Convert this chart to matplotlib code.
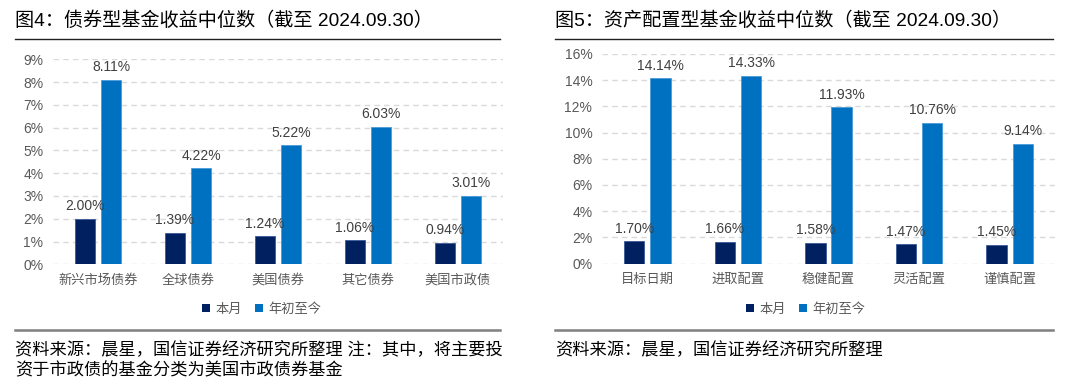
import matplotlib
matplotlib.use("Agg")
import matplotlib.pyplot as plt
import numpy as np
from matplotlib.patches import Patch
from matplotlib.lines import Line2D

plt.rcParams['font.family'] = ['Liberation Sans', 'Noto Sans CJK SC', 'DejaVu Sans']

# data
bond_cats = ['新兴市场债券', '全球债券', '美国债券', '其它债券', '美国市政债']
bond_month = [2.00, 1.39, 1.24, 1.06, 0.94]
bond_ytd = [8.11, 4.22, 5.22, 6.03, 3.01]

alloc_cats = ['目标日期', '进取配置', '稳健配置', '灵活配置', '谨慎配置']
alloc_month = [1.70, 1.66, 1.58, 1.47, 1.45]
alloc_ytd = [14.14, 14.33, 11.93, 10.76, 9.14]

series_names = ['本月', '年初至今']
titles = ['图4：债券型基金收益中位数（截至 2024.09.30）',
          '图5：资产配置型基金收益中位数（截至 2024.09.30）']
notes = ['资料来源：晨星，国信证券经济研究所整理 注：其中，将主要投\n资于市政债的基金分类为美国市政债券基金',
         '资料来源：晨星，国信证券经济研究所整理']

DARK = '#002060'
LIGHT = '#0070C0'
GRAY = '#595959'

W, H = 1080, 387
fig = plt.figure(figsize=(W / 100, H / 100), dpi=100)


def px_axes(x0, x1, y_top, y_bot):
    return fig.add_axes([x0 / W, 1 - y_bot / H, (x1 - x0) / W, (y_bot - y_top) / H])


def draw_panel(ax, cats, month, ytd, ymax, step):
    x = np.arange(len(cats))
    bw = 0.225
    off = 0.145
    b1 = ax.bar(x - off, month, bw, color=DARK, edgecolor='#3a5a9a', linewidth=0.6, zorder=3)
    b2 = ax.bar(x + off, ytd, bw, color=LIGHT, edgecolor='#4a9ad8', linewidth=0.6, zorder=3)
    for bars in (b1, b2):
        for r in bars:
            ax.annotate(f'{r.get_height():.2f}%', (r.get_x() + r.get_width() / 2, r.get_height()),
                        xytext=(0, 4), textcoords='offset points', ha='center', va='bottom',
                        fontsize=10, color='#404040')
    ax.set_xlim(-0.5, len(cats) - 0.5)
    ax.set_ylim(0, ymax)
    yt = np.arange(0, ymax + 0.01, step)
    ax.set_yticks(yt)
    ax.set_yticklabels([f'{int(v)}%' for v in yt], fontsize=10, color=GRAY)
    ax.set_xticks(x)
    ax.set_xticklabels(cats, fontsize=9.5, color=GRAY, family=['Noto Sans CJK SC'])
    ax.tick_params(axis='both', length=0)
    ax.tick_params(axis='y', pad=7)
    ax.tick_params(axis='x', pad=7)
    for s in ax.spines.values():
        s.set_visible(False)
    ax.yaxis.grid(True, linestyle=(0, (4, 3)), color='#d9d9d9', linewidth=1, zorder=0)
    ax.set_axisbelow(True)


ax1 = px_axes(53, 503, 59.3, 264.3)
draw_panel(ax1, bond_cats, bond_month, bond_ytd, 9, 1)
ax2 = px_axes(602, 1055, 54, 263.5)
draw_panel(ax2, alloc_cats, alloc_month, alloc_ytd, 16, 2)

handles = [Patch(facecolor=DARK), Patch(facecolor=LIGHT)]
for cx in (262, 806):
    fig.legend(handles, series_names, loc='center', bbox_to_anchor=(cx / W, 1 - 309 / H),
               ncol=2, frameon=False, handlelength=0.6, handleheight=0.6, handletextpad=0.4,
               columnspacing=1.0, prop={'family': 'Noto Sans CJK SC', 'size': 9.5},
               labelcolor=GRAY)

# titles, rules and notes
for x0, x1, title, note in [(15, 500, titles[0], notes[0]), (555, 1053, titles[1], notes[1])]:
    fig.text(x0 / W, 1 - 21 / H, title, fontsize=13.8, color='black', va='center', ha='left')
    fig.add_artist(Line2D([x0 / W, x1 / W], [1 - 38.5 / H] * 2, color='#222222', linewidth=1))
    fig.add_artist(Line2D([x0 / W, x1 / W], [1 - 330 / H] * 2, color='#7f7f7f', linewidth=1.8))
    fig.text(x0 / W, 1 - 341 / H, note, fontsize=12.4, color='black', va='top', ha='left',
             linespacing=1.3)

fig.savefig('out.png', dpi=100)
